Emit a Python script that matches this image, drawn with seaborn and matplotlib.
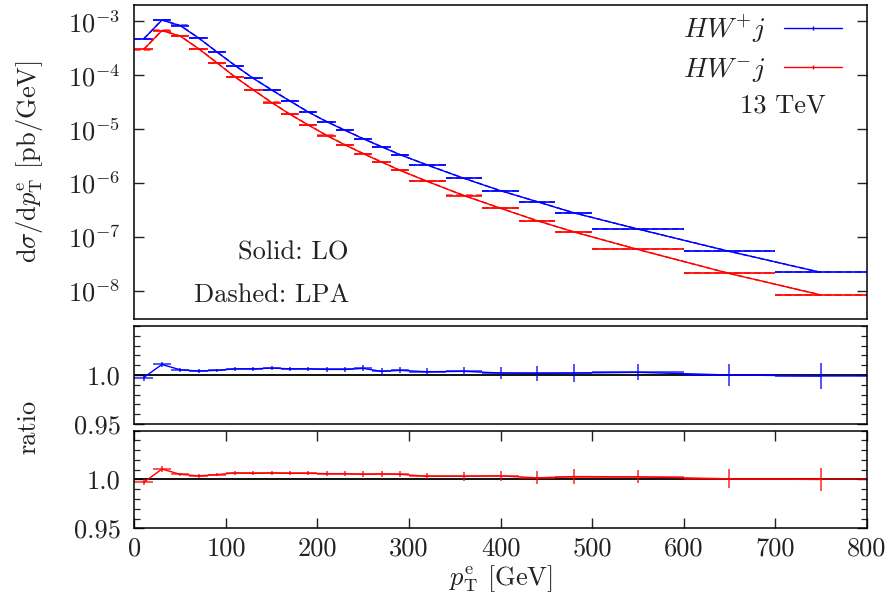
import numpy as np
import pandas as pd
import matplotlib
matplotlib.use("Agg")
import matplotlib.pyplot as plt
import seaborn as sns
from matplotlib.ticker import LogLocator, MultipleLocator, FixedLocator, NullFormatter, LogFormatterMathtext
from matplotlib.lines import Line2D

# ---------------- data ----------------
bin_lo = [0, 20, 40, 60, 80, 100, 120, 140, 160, 180, 200, 220, 240, 260, 280,
          300, 340, 380, 420, 460, 500, 600, 700]
bin_hi = [20, 40, 60, 80, 100, 120, 140, 160, 180, 200, 220, 240, 260, 280, 300,
          340, 380, 420, 460, 500, 600, 700, 800]

lo_wplus = [4.7e-4, 1.05e-3, 8.3e-4, 4.9e-4, 2.7e-4, 1.5e-4, 8.7e-5, 5.3e-5, 3.3e-5,
            2.07e-5, 1.37e-5, 9.5e-6, 6.6e-6, 4.7e-6, 3.36e-6, 2.15e-6, 1.22e-6,
            7.2e-7, 4.5e-7, 2.8e-7, 1.4e-7, 5.4e-8, 2.2e-8]
lo_wminus = [3.0e-4, 6.7e-4, 5.3e-4, 3.1e-4, 1.7e-4, 9.2e-5, 5.3e-5, 3.1e-5, 1.87e-5,
             1.19e-5, 7.6e-6, 5.1e-6, 3.5e-6, 2.45e-6, 1.72e-6, 1.07e-6, 5.85e-7,
             3.4e-7, 2.0e-7, 1.24e-7, 5.85e-8, 2.1e-8, 8.4e-9]

ratio_wplus = [0.9973, 1.0107, 1.0053, 1.0040, 1.0047, 1.0063, 1.0063, 1.0070, 1.0063,
               1.0063, 1.0057, 1.0057, 1.0067, 1.0037, 1.0047, 1.0033, 1.0037, 1.0020,
               1.0017, 1.0020, 1.0027, 1.0000, 0.9990]
ratio_wminus = [0.9970, 1.0107, 1.0053, 1.0037, 1.0050, 1.0067, 1.0063, 1.0067, 1.0063,
                1.0063, 1.0060, 1.0060, 1.0053, 1.0057, 1.0053, 1.0033, 1.0033, 1.0037,
                1.0017, 1.0030, 1.0027, 1.0007, 1.0000]

err_wplus = [0.0030, 0.0030, 0.0018, 0.0018, 0.0018, 0.0020, 0.0020, 0.0020, 0.0022,
             0.0022, 0.0025, 0.0025, 0.0030, 0.0035, 0.0030, 0.0035, 0.0047, 0.0060,
             0.0077, 0.0095, 0.0083, 0.0110, 0.0130]
err_wminus = [0.0030, 0.0030, 0.0018, 0.0018, 0.0018, 0.0020, 0.0020, 0.0020, 0.0022,
              0.0022, 0.0025, 0.0025, 0.0030, 0.0032, 0.0030, 0.0033, 0.0047, 0.0050,
              0.0068, 0.0080, 0.0068, 0.0097, 0.0120]

x_ticks = [0, 100, 200, 300, 400, 500, 600, 700, 800]

# ---------------- style ----------------
sns.set_theme(style="ticks")
plt.rcParams.update({
    "font.family": ["serif"],
    "font.serif": ["cmr10", "DejaVu Serif"],
    "mathtext.fontset": "cm",
    "axes.formatter.use_mathtext": True,
    "axes.unicode_minus": False,
    "text.color": "#222222",
    "axes.labelcolor": "#222222",
    "xtick.color": "#222222",
    "ytick.color": "#222222",
    "axes.edgecolor": "black",
    "axes.linewidth": 1.1,
})
FS = 19

df = pd.DataFrame({
    "lo": bin_lo, "hi": bin_hi,
    "lo_p": lo_wplus, "lo_m": lo_wminus,
    "r_p": ratio_wplus, "r_m": ratio_wminus,
    "e_p": err_wplus, "e_m": err_wminus,
})
df["x"] = (df["lo"] + df["hi"]) / 2
df["hw"] = (df["hi"] - df["lo"]) / 2
df["lpa_p"] = df["lo_p"] * df["r_p"]
df["lpa_m"] = df["lo_m"] * df["r_m"]

fig = plt.figure(figsize=(8.96, 6.05), dpi=100)
L, R = 0.1501, 0.9671
ax_top = fig.add_axes([L, 0.4727, R - L, 0.9917 - 0.4727])
ax_r1 = fig.add_axes([L, 0.2992, R - L, 0.4612 - 0.2992])
ax_r2 = fig.add_axes([L, 0.1268, R - L, 0.2881 - 0.1268])

BLUE = "#0000ff"
RED = "#ff0000"

# ----- top panel -----
for col_lo, col_lpa, color in [("lo_p", "lpa_p", BLUE), ("lo_m", "lpa_m", RED)]:
    sns.lineplot(data=df, x="x", y=col_lo, ax=ax_top, color=color, lw=1.0,
                 legend=False, estimator=None, sort=False)
    sns.lineplot(data=df, x="x", y=col_lpa, ax=ax_top, color=color, lw=1.0,
                 linestyle=(0, (4, 2)), legend=False, estimator=None, sort=False)
    ax_top.hlines(df[col_lo], df["lo"], df["hi"], color=color, lw=1.2)
    ax_top.hlines(df[col_lpa], df["lo"], df["hi"], color=color, lw=1.2,
                  linestyles=(0, (4, 2)), alpha=0.7)

ax_top.set_yscale("log")
ax_top.set_ylim(3e-9, 2e-3)
ax_top.set_xlim(0, 800)
ax_top.yaxis.set_major_locator(FixedLocator([1e-8, 1e-7, 1e-6, 1e-5, 1e-4, 1e-3]))
ax_top.yaxis.set_major_formatter(LogFormatterMathtext())
ax_top.yaxis.set_minor_locator(LogLocator(base=10, subs=[2, 5, 8]))
ax_top.yaxis.set_minor_formatter(NullFormatter())
ax_top.set_ylabel(r"$\mathrm{d}\sigma/\mathrm{d}p_{\mathrm{T}}^{\mathrm{e}}$ [pb/GeV]",
                  fontsize=FS)
ax_top.yaxis.set_label_coords(-0.122, 0.5)

handles = [Line2D([], [], color=BLUE, lw=1.0, marker="|", markersize=3),
           Line2D([], [], color=RED, lw=1.0, marker="|", markersize=3)]
ax_top.legend(handles, [r"$HW^{+}j$", r"$HW^{-}j$"], loc="upper right",
              bbox_to_anchor=(0.9666, 0.975), frameon=False, markerfirst=False,
              fontsize=FS + 1, handlelength=2.1, labelspacing=0.4,
              handletextpad=0.65, borderpad=0, borderaxespad=0)

ax_top.text(0.944, 1 - (106 - 5) / 314, "13 TeV", ha="right", va="center",
            fontsize=FS, transform=ax_top.transAxes)
ax_top.text(0.293, 1 - (253 - 5) / 314, "Solid: LO", ha="right", va="center",
            fontsize=FS, transform=ax_top.transAxes)
ax_top.text(0.293, 1 - (295 - 5) / 314, "Dashed: LPA", ha="right", va="center",
            fontsize=FS, transform=ax_top.transAxes)

# ----- ratio panels -----
for ax, col_r, col_e, color in [(ax_r1, "r_p", "e_p", BLUE), (ax_r2, "r_m", "e_m", RED)]:
    ax.axhline(1.0, color="black", lw=1.3, zorder=1)
    sns.lineplot(data=df, x="x", y=col_r, ax=ax, color=color, lw=1.0,
                 legend=False, estimator=None, sort=False)
    ax.errorbar(df["x"], df[col_r], xerr=df["hw"], yerr=df[col_e], fmt="none",
                ecolor=color, elinewidth=1.1, alpha=0.85)
    ax.set_xlim(0, 800)
    ax.set_ylim(0.95, 1.05)
    ax.yaxis.set_major_locator(FixedLocator([0.95, 1.0]))
    ax.yaxis.set_minor_locator(MultipleLocator(0.01))
    ax.set_yticklabels(["0.95", "1.0"])
    ax.set_ylabel("")

for ax in (ax_top, ax_r1, ax_r2):
    ax.xaxis.set_major_locator(FixedLocator(x_ticks))
    ax.tick_params(axis="both", which="both", direction="in", top=True, right=True,
                   labelsize=FS)
    ax.tick_params(axis="y", which="major", pad=10)
    ax.tick_params(axis="x", which="major", pad=6)
    ax.tick_params(axis="both", which="major", length=7, width=1.0)
    ax.tick_params(axis="y", which="minor", length=4, width=0.9)
    ax.set_xlabel("")

for ax in (ax_top, ax_r1):
    ax.tick_params(axis="x", which="both", bottom=False, top=False, labelbottom=False)
ax_r2.set_xticklabels([str(v) for v in x_ticks])
ax_r2.set_xlabel(r"$p_{\mathrm{T}}^{\mathrm{e}}$ [GeV]", fontsize=FS, labelpad=2)

fig.text(28 / 896, 1 - 427 / 605, "ratio", rotation=90, ha="center", va="center",
         fontsize=FS)

fig.savefig("out.png", dpi=100)
